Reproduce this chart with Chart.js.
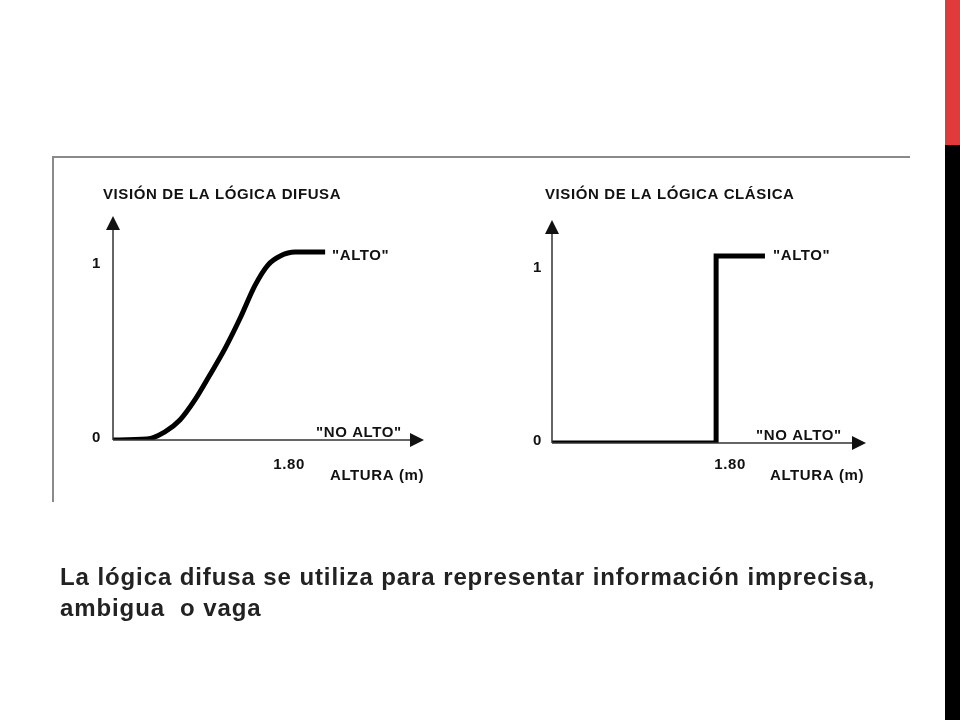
<!DOCTYPE html>
<html>
<head>
<meta charset="utf-8">
<script src="https://cdn.jsdelivr.net/npm/chart.js@4"></script>
<style>
  body { margin: 0; width: 960px; height: 720px; background: #fff; position: relative; overflow: hidden; font-family: "Liberation Sans", Arial, sans-serif; }
  canvas.c { position: absolute; left: 0; top: 0; pointer-events: none; }
  .frameTop { position: absolute; left: 52px; top: 156px; width: 858px; height: 2px; background: #8a8a8a; }
  .frameLeft { position: absolute; left: 52px; top: 156px; width: 2px; height: 346px; background: #8a8a8a; }
  .barRed { position: absolute; left: 945px; top: 0; width: 15px; height: 145px; background: #e03a3a; }
  .barBlack { position: absolute; left: 945px; top: 145px; width: 15px; height: 575px; background: #000; }
  .caption { position: absolute; left: 60px; top: 561px; font-size: 24px; letter-spacing: 0.9px; font-weight: bold; color: #222; line-height: 31px; }
</style>
</head>
<body>
<div class="frameTop"></div>
<div class="frameLeft"></div>
<div class="barRed"></div>
<div class="barBlack"></div>
<canvas id="fuzzy" class="c" width="960" height="720"></canvas>
<canvas id="classic" class="c" width="960" height="720"></canvas>
<div class="caption">La lógica difusa se utiliza para representar información imprecisa,<br>ambigua&nbsp; o vaga</div>
<script>
// fuzzy membership "alto" (height in m, degree)
const fuzzyX = [1.40, 1.477, 1.518, 1.552, 1.586, 1.620, 1.655, 1.689, 1.723, 1.752, 1.780, 1.814, 1.882];
const fuzzyY = [0, 0.005, 0.043, 0.106, 0.213, 0.346, 0.489, 0.649, 0.824, 0.931, 0.979, 1.0, 1.0];
// classic crisp set
const classicX = [1.427, 1.80, 1.80, 1.911];
const classicY = [0, 0, 1, 1];
const yTicks = ["0", "1"];
const xTick = "1.80";

function pts(xs, ys) { return xs.map((x, i) => ({ x: x, y: ys[i] })); }

function decoPlugin(o) {
  return {
    id: "deco",
    afterDraw(chart) {
      const c = chart.ctx, xs = chart.scales.x, ys = chart.scales.y;
      const x0 = xs.getPixelForValue(xs.min), y0 = ys.getPixelForValue(0);
      const xe = xs.getPixelForValue(xs.max), ye = ys.getPixelForValue(ys.max);
      c.save();
      c.strokeStyle = "#333"; c.fillStyle = "#111"; c.lineWidth = 1.5;
      c.beginPath(); c.moveTo(x0, y0); c.lineTo(xe - 4, y0); c.moveTo(x0, y0); c.lineTo(x0, ye + 4); c.stroke();
      c.beginPath(); c.moveTo(xe + 6, y0); c.lineTo(xe - 8, y0 - 7); c.lineTo(xe - 8, y0 + 7); c.closePath(); c.fill();
      c.beginPath(); c.moveTo(x0, ye - 6); c.lineTo(x0 - 7, ye + 8); c.lineTo(x0 + 7, ye + 8); c.closePath(); c.fill();
      c.font = "bold 15px 'Liberation Sans', Arial";
      c.letterSpacing = "0.6px";
      c.textBaseline = "middle";
      c.textAlign = "left";
      c.fillText(o.title, o.titleX, 195);
      c.textAlign = "right";
      c.fillText(yTicks[0], x0 - o.tickGap, y0 - 2);
      c.fillText(yTicks[1], x0 - o.tickGap, ys.getPixelForValue(1) + 12);
      c.textAlign = "center";
      c.fillText(xTick, xs.getPixelForValue(1.80) + o.x180, 465);
      c.textAlign = "left";
      c.fillText('"ALTO"', o.altoX, 256);
      c.fillText('"NO ALTO"', o.noAltoX, y0 - 7);
      c.fillText("ALTURA (m)", o.alturaX, 476);
      c.restore();
    }
  };
}

function makeChart(id, data, xmin, xmax, pad, o) {
  new Chart(document.getElementById(id), {
    type: "scatter",
    data: { datasets: [{ data: data, showLine: true, borderColor: "#000", borderWidth: 5,
      pointRadius: 0, tension: o.tension, cubicInterpolationMode: o.mono ? "monotone" : "default", fill: false }] },
    options: {
      responsive: false, animation: false,
      layout: { padding: pad },
      plugins: { legend: { display: false }, tooltip: { enabled: false } },
      scales: {
        x: { type: "linear", min: xmin, max: xmax, grid: { display: false, drawTicks: false }, border: { display: false }, ticks: { display: false } },
        y: { min: 0, max: 1.16, grid: { display: false, drawTicks: false }, border: { display: false }, ticks: { display: false } }
      }
    },
    plugins: [decoPlugin(o)]
  });
}

makeChart("fuzzy", pts(fuzzyX, fuzzyY), 1.40, 2.093,
  { left: 113, top: 222, right: 542, bottom: 280 },
  { title: "VISIÓN DE LA LÓGICA DIFUSA", titleX: 103, tickGap: 12, x180: 0, altoX: 332, noAltoX: 316, alturaX: 330, mono: true, tension: 0.4 });

makeChart("classic", pts(classicX, classicY), 1.427, 2.127,
  { left: 552, top: 226, right: 100, bottom: 277 },
  { title: "VISIÓN DE LA LÓGICA CLÁSICA", titleX: 545, tickGap: 10, x180: 14, altoX: 773, noAltoX: 756, alturaX: 770, mono: false, tension: 0 });
</script>
</body>
</html>
